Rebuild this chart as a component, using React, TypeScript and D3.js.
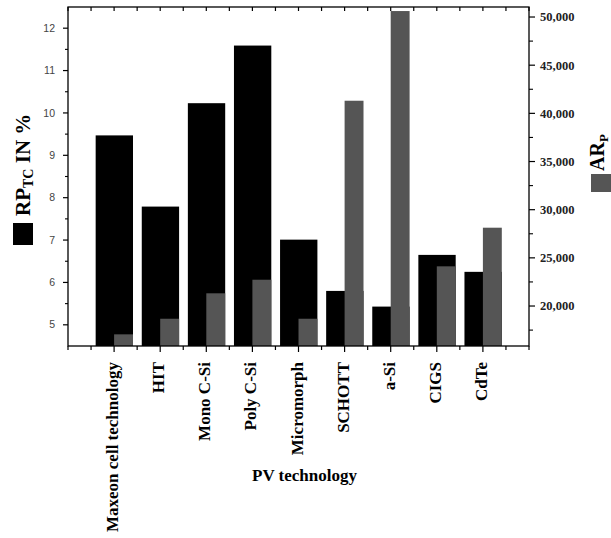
import React from "react";
import * as d3 from "d3";

const categories = [
  "Maxeon cell technology",
  "HIT",
  "Mono C-Si",
  "Poly C-Si",
  "Micromorph",
  "SCHOTT",
  "a-Si",
  "CIGS",
  "CdTe",
];
const rpValues = [9.47, 7.79, 10.23, 11.59, 7.01, 5.8, 5.43, 6.65, 6.25];
const arValues = [17060, 18680, 21320, 22730, 18680, 41310, 50620, 24120, 28130];
const leftTicks = [5, 6, 7, 8, 9, 10, 11, 12];
const rightTicks = [20000, 25000, 30000, 35000, 40000, 45000, 50000];

const W = 611;
const H = 538;
const L = 68;
const R = 529;
const T = 7;
const B = 346;
const GRAY = "#555555";
const SERIF = "'Liberation Serif', 'Times New Roman', serif";

export default function App() {
  const x = d3.scaleLinear().domain([0, categories.length + 1]).range([L, R]);
  const yL = d3.scaleLinear().domain([4.5, 12.5]).range([B, T]);
  const yR = d3.scaleLinear().domain([15850, 51040]).range([B, T]);
  const unit = x(1) - x(0);
  const fmt = d3.format(",");

  const halfSteps = d3.range(0, categories.length + 1.01, 0.5);
  const leftMinor = d3.range(5.5, 12.5, 1);
  const rightMinor = d3.range(17500, 51000, 5000);

  return (
    <svg
      width={W}
      height={H}
      style={{ position: "absolute", left: 0, top: 0, background: "#fff" }}
    >
      {/* bars */}
      {categories.map((c, i) => {
        const cx = x(i + 1);
        return (
          <g key={c}>
            <rect
              x={cx - 0.4 * unit}
              y={yL(rpValues[i])}
              width={0.81 * unit}
              height={B - yL(rpValues[i])}
              fill="#000"
            />
            <rect
              x={cx}
              y={yR(arValues[i])}
              width={0.41 * unit}
              height={B - yR(arValues[i])}
              fill={GRAY}
            />
          </g>
        );
      })}

      {/* frame */}
      <rect x={L} y={T} width={R - L} height={B - T} fill="none" stroke="#000" strokeWidth={1.3} />

      {/* bottom ticks (outward) and top ticks (inward) */}
      {halfSteps.map((v) => {
        const major = Math.abs(v - Math.round(v)) < 1e-6 && v > 0 && v < categories.length + 1;
        return (
          <g key={"bx" + v}>
            <line x1={x(v)} x2={x(v)} y1={B} y2={B + (major ? 6 : 4)} stroke="#000" strokeWidth={1.2} />
            <line x1={x(v)} x2={x(v)} y1={T} y2={T + 4} stroke="#000" strokeWidth={1.2} />
          </g>
        );
      })}

      {/* left axis ticks */}
      {leftTicks.map((v) => (
        <g key={"l" + v}>
          <line x1={L - 5} x2={L} y1={yL(v)} y2={yL(v)} stroke="#000" strokeWidth={1.2} />
          <text
            x={L - 13}
            y={yL(v)}
            dy="0.35em"
            textAnchor="end"
            fontFamily="'Liberation Sans', Arial, sans-serif"
            fontSize={10.5}
            fill="#444"
          >
            {v}
          </text>
        </g>
      ))}
      {leftMinor.map((v) => (
        <line key={"lm" + v} x1={L - 3} x2={L} y1={yL(v)} y2={yL(v)} stroke="#000" strokeWidth={1.1} />
      ))}

      {/* right axis ticks */}
      {rightTicks.map((v) => (
        <g key={"r" + v}>
          <line x1={R} x2={R + 6} y1={yR(v)} y2={yR(v)} stroke="#000" strokeWidth={1.2} />
          <text
            x={R + 11}
            y={yR(v)}
            dy="0.35em"
            textAnchor="start"
            fontFamily={SERIF}
            fontWeight="bold"
            fontSize={12.5}
            fill="#222"
          >
            {fmt(v)}
          </text>
        </g>
      ))}
      {rightMinor.map((v) => (
        <line key={"rm" + v} x1={R} x2={R + 4} y1={yR(v)} y2={yR(v)} stroke="#000" strokeWidth={1.1} />
      ))}

      {/* category labels */}
      {categories.map((c, i) => (
        <text
          key={"cl" + c}
          transform={`translate(${x(i + 1) + 4},${B + 16}) rotate(-90)`}
          textAnchor="end"
          fontFamily={SERIF}
          fontWeight="bold"
          fontSize={17}
          fill="#000"
        >
          {c}
        </text>
      ))}

      {/* x axis title */}
      <text
        x={(L + R) / 2 + 6}
        y={481}
        textAnchor="middle"
        fontFamily={SERIF}
        fontWeight="bold"
        fontSize={17}
        fill="#000"
      >
        PV technology
      </text>

      {/* left legend */}
      <rect x={13} y={223} width={20} height={22} fill="#000" />
      <text
        transform={`translate(30,216) rotate(-90)`}
        textAnchor="start"
        fontFamily={SERIF}
        fontWeight="bold"
        fontSize={21}
        fill="#000"
      >
        RP
        <tspan fontSize={14} dy={3}>TC</tspan>
        <tspan dy={-3}> IN %</tspan>
      </text>

      {/* right legend */}
      <rect x={591} y={174} width={20} height={18} fill={GRAY} />
      <text
        transform={`translate(604,171) rotate(-90)`}
        textAnchor="start"
        fontFamily={SERIF}
        fontWeight="bold"
        fontSize={20}
        fill="#000"
      >
        AR
        <tspan fontSize={13} dy={4}>P</tspan>
      </text>
    </svg>
  );
}
